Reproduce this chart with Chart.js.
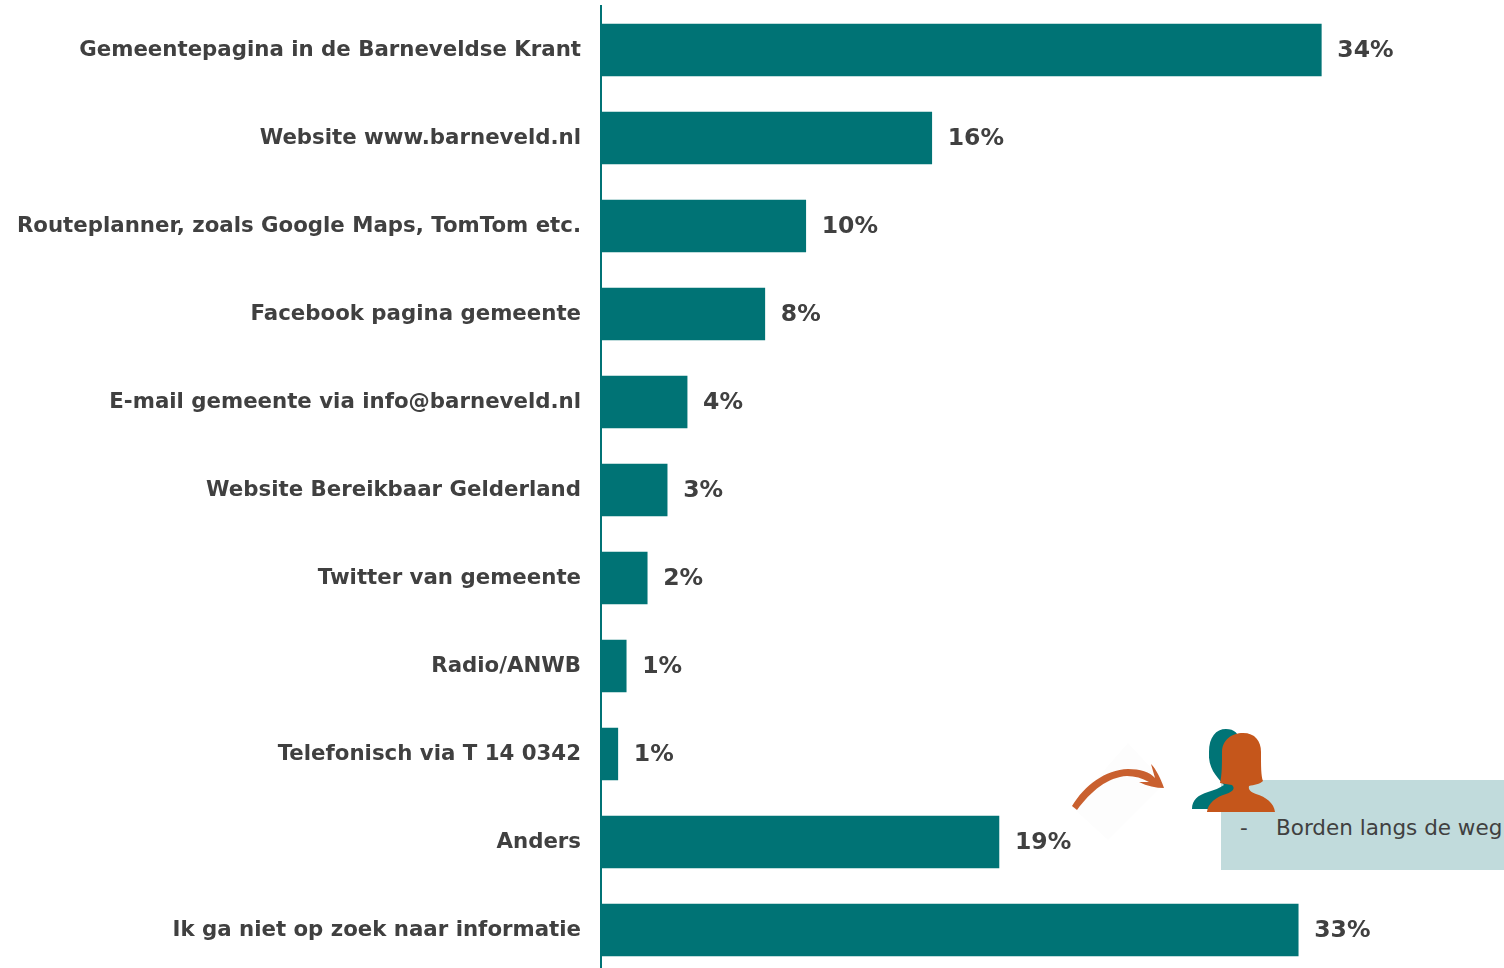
<!DOCTYPE html>
<html><head><meta charset="utf-8">
<script src="https://cdn.jsdelivr.net/npm/chart.js@4"></script>
<style>
html,body{margin:0;padding:0;width:1504px;height:968px;overflow:hidden;background:#fff}
#wrap{position:absolute;left:0;top:0;width:1504px;height:974px}
#box{position:absolute;left:1221px;top:780px;width:283px;height:90px;background:#c1dbdc}
#dash,#note{position:absolute;top:815px;font:21.5px "DejaVu Sans",sans-serif;color:#404040;white-space:pre}
#dash{left:1240px}
#note{left:1276px}
svg{position:absolute;left:0;top:0}
</style></head>
<body>
<div id="wrap"><canvas id="c" width="1504" height="974" style="width:1504px;height:974px"></canvas></div>
<div id="box"></div>
<div id="dash">-</div><div id="note">Borden langs de weg</div>
<svg width="1504" height="968" viewBox="0 0 1504 968">
  <polygon points="1128,743 1165,783 1108,840 1072,807" fill="#fdfdfd"/>
  <path d="M1072,806 C1085,785 1105,770 1128,769 C1140,769 1150,772 1155,778 L1151,764 C1156,769 1161,779 1164,788 C1156,788 1147,786 1139,782 L1149,782 C1142,778 1135,776 1127,776 C1108,777 1091,791 1077,810 Z" fill="#c9602f"/>
  <path d="M1192,809 C1192,800 1198,795 1208,792 C1214,790 1220,788 1224,785 C1216,776 1208,768 1209,752 C1209,737 1216,729 1226,729 C1234,729 1240,733 1240,745 L1240,809 Z" fill="#007476"/>
  <path d="M1207,812 C1208,803 1216,797 1226,794 C1232,792 1236,789 1232,785 C1228,784 1223,784 1220,783 C1222,775 1222,765 1222,752 C1222,740 1232,733 1243,733 C1255,733 1261,741 1261,752 C1261,766 1261,776 1263,781 C1260,784 1254,785 1249,786 C1248,790 1251,792 1256,794 C1266,797 1274,803 1275,812 Z" fill="#c5561b"/>
</svg>
<script>
const categories = [
  "Gemeentepagina in de Barneveldse Krant",
  "Website www.barneveld.nl",
  "Routeplanner, zoals Google Maps, TomTom etc.",
  "Facebook pagina gemeente",
  "E-mail gemeente via info@barneveld.nl",
  "Website Bereikbaar Gelderland",
  "Twitter van gemeente",
  "Radio/ANWB",
  "Telefonisch via T 14 0342",
  "Anders",
  "Ik ga niet op zoek naar informatie"
];
const values = [34.3, 15.75, 9.75, 7.8, 4.1, 3.15, 2.2, 1.2, 0.8, 18.95, 33.2];
const valueLabels = ["34%","16%","10%","8%","4%","3%","2%","1%","1%","19%","33%"];
const teal = "#007375", ink = "#404040";
const font = '"DejaVu Sans", sans-serif';

const barLabels = {
  id: "barLabels",
  afterDatasetsDraw(chart) {
    const ctx = chart.ctx, meta = chart.getDatasetMeta(0);
    ctx.save();
    ctx.font = "bold 23.5px " + font;
    ctx.fillStyle = ink;
    ctx.textAlign = "left";
    ctx.textBaseline = "middle";
    meta.data.forEach((bar, i) => ctx.fillText(valueLabels[i], bar.x + 16, bar.y + 1));
    ctx.restore();
  }
};

new Chart(document.getElementById("c"), {
  type: "bar",
  data: { labels: categories, datasets: [{ data: values, backgroundColor: teal, barThickness: 52, borderWidth: 0 }] },
  options: {
    indexAxis: "y",
    responsive: false,
    animation: false,
    layout: { padding: { top: 6, left: 0, right: 0, bottom: 0 } },
    plugins: { legend: { display: false }, tooltip: { enabled: false } },
    scales: {
      x: { display: false, min: 0, max: 43 },
      y: {
        afterFit(s) { s.width = 601; s.paddingTop = 0; s.paddingBottom = 0; },
        grid: { display: false, drawTicks: false },
        border: { display: true, color: teal, width: 2 },
        ticks: { color: ink, padding: 20, autoSkip: false, font: { family: font, size: 21.3, weight: "bold" } }
      }
    }
  },
  plugins: [barLabels]
});
</script>
</body></html>
